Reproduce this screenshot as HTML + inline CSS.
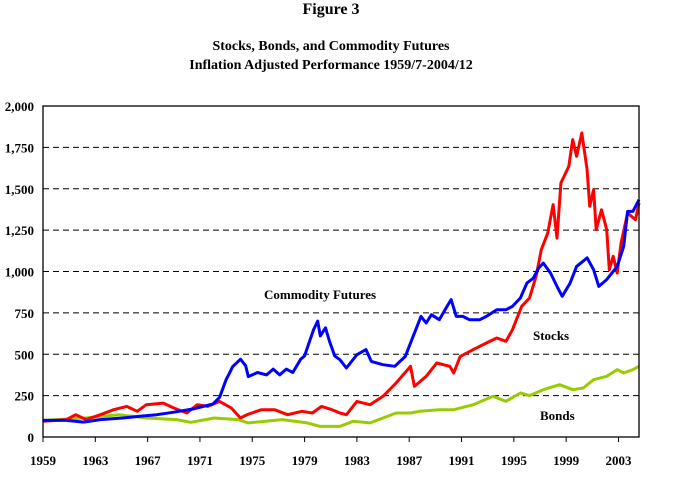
<!DOCTYPE html>
<html><head><meta charset="utf-8"><style>
body{margin:0;background:#fff}
svg{display:block;font-family:"Liberation Serif",serif;font-weight:bold}
</style></head><body>
<svg id="chart" width="674" height="486" viewBox="0 0 674 486">
<text x="331" y="14" text-anchor="middle" font-size="16">Figure 3</text>
<text x="331" y="50" text-anchor="middle" font-size="14">Stocks, Bonds, and Commodity Futures</text>
<text x="331" y="69" text-anchor="middle" font-size="14">Inflation Adjusted Performance 1959/7-2004/12</text>
<g id="grid"></g><g id="series"></g><g id="axes"></g>
<text x="264" y="299" font-size="13">Commodity Futures</text>
<text x="533" y="340" font-size="13">Stocks</text>
<text x="540" y="420" font-size="13">Bonds</text>
</svg>
<script>
const yTicks=[0,250,500,750,1000,1250,1500,1750,2000];
const yTickLabels=["0","250","500","750","1,000","1,250","1,500","1,750","2,000"];
const xTicks=[1959,1963,1967,1971,1975,1979,1983,1987,1991,1995,1999,2003];
const commodityYears=[1959,1960.8,1962.1,1963.4,1965.1,1966.4,1967.7,1969,1970.5,1972,1972.5,1973,1973.25,1973.5,1974.1,1974.5,1974.7,1975.4,1976.1,1976.6,1977.1,1977.6,1978.1,1978.7,1979,1979.3,1979.7,1980,1980.2,1980.6,1980.9,1981.3,1981.7,1982.2,1983,1983.7,1984.1,1985,1985.9,1986.7,1987.3,1987.9,1988.3,1988.7,1989.3,1989.9,1990.2,1990.6,1991.1,1991.6,1992.4,1992.9,1993.7,1994.4,1994.9,1995.5,1996,1996.5,1996.9,1997.25,1997.8,1998.3,1998.7,1999.3,1999.8,2000.6,2001.1,2001.5,2002.1,2002.9,2003.4,2003.7,2004.1,2004.57];
const commodityValues=[100,100,90,105,115,125,135,150,170,200,240,346,385,425,470,430,365,390,375,410,375,410,390,470,490,560,650,700,610,660,580,490,467,417,497,528,457,437,427,487,608,729,689,739,709,790,830,729,729,709,709,729,769,769,790,840,930,961,1021,1051,991,910,850,930,1031,1082,1011,910,951,1031,1152,1363,1363,1434];
const stockYears=[1959,1960.8,1961.5,1962.3,1963.4,1964.4,1965.4,1966.2,1966.9,1968.2,1969,1970,1970.8,1971.6,1972.5,1973.4,1974.1,1974.6,1975.7,1976.7,1977.7,1978.8,1979.6,1980.3,1981.1,1981.7,1982.2,1983,1984,1985,1986,1987.1,1987.4,1988.3,1989.1,1990.1,1990.4,1990.9,1991.9,1992.9,1993.7,1994.4,1994.9,1995.6,1996.2,1996.7,1997.1,1997.6,1998,1998.3,1998.6,1999.2,1999.5,1999.8,2000.2,2000.6,2000.8,2001.1,2001.3,2001.7,2002.1,2002.3,2002.6,2002.9,2003.2,2003.7,2004.3,2004.57];
const stockValues=[95,105,135,105,135,165,185,155,195,205,175,145,195,185,215,175,115,135,165,165,135,155,145,185,165,145,135,215,195,246,326,427,306,367,447,427,387,487,528,568,598,578,649,790,840,971,1132,1233,1404,1202,1535,1635,1797,1696,1837,1615,1394,1494,1253,1373,1253,1011,1092,991,1172,1353,1313,1414];
const bondYears=[1959,1962.2,1964.8,1966.9,1969.2,1970.3,1972.1,1973.9,1974.7,1977.3,1979.2,1980.2,1981.7,1982.7,1984,1986,1987.1,1987.8,1989.3,1990.4,1991.9,1993.4,1994.4,1995.5,1996.2,1997.25,1998.5,1999.5,2000.3,2001.1,2002.1,2002.9,2003.4,2004.1,2004.57];
const bondValues=[100,115,135,115,105,89,115,105,85,105,85,64,64,95,85,145,145,155,165,165,195,246,216,266,250,286,316,286,296,346,367,407,387,407,427];

const NS="http://www.w3.org/2000/svg";
const L=43,R=639,T=106,B=437,X0=1959,X1=2004.57;
function xS(t){return L+(t-X0)*(R-L)/(X1-X0);}
function yS(v){return B-v*(B-T)/2000;}
function mk(tag,attrs,parent){const e=document.createElementNS(NS,tag);for(const k in attrs)e.setAttribute(k,attrs[k]);parent.appendChild(e);return e;}
const grid=document.getElementById('grid'),axes=document.getElementById('axes'),ser=document.getElementById('series');
yTicks.forEach((v,i)=>{
  if(v>0&&v<2000){const g=mk('line',{x1:L,x2:R,y1:yS(v),y2:yS(v),stroke:'#000','stroke-width':1,'stroke-dasharray':'6,4'},grid);
  
  }
  const t=mk('text',{x:34,y:yS(v)+5,'text-anchor':'end','font-size':13},axes);
  t.textContent=yTickLabels[i];
  
  
});
xTicks.forEach(y=>{
  const x=xS(y);
  const tk=mk('line',{x1:x,x2:x,y1:B,y2:B+5,stroke:'#000'},axes);
  
  
  const t=mk('text',{x:x,y:465,'text-anchor':'middle','font-size':13},axes);
  t.textContent=y;
  
  
});
const frame=mk('rect',{x:L,y:T,width:R-L,height:B-T,fill:'none',stroke:'#000','stroke-width':1.3},axes);


function line(xs,vs,color,name){
  const d=xs.map((t,i)=>(i?'L':'M')+xS(t).toFixed(1)+','+yS(vs[i]).toFixed(1)).join('');
  const p=mk('path',{d:d,fill:'none',stroke:color,'stroke-width':3,'stroke-linejoin':'round'},ser);
  
  
}
line(bondYears,bondValues,'#99cc00','bonds-line');
line(stockYears,stockValues,'#ff0000','stocks-line');
line(commodityYears,commodityValues,'#0000ff','commodity-futures-line');
</script>
</body></html>
